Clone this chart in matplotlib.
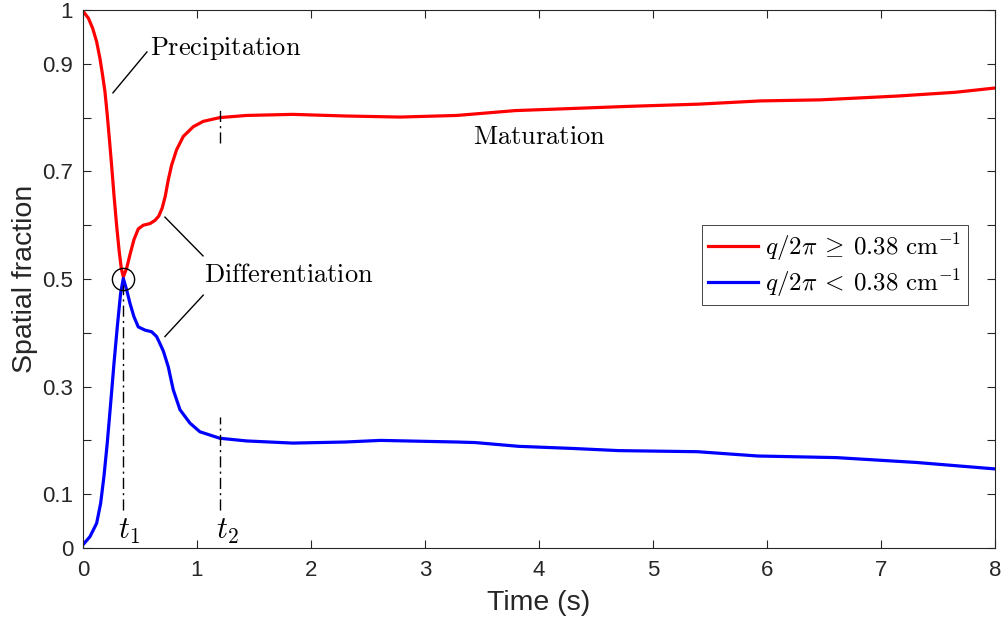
import matplotlib

matplotlib.use("Agg")
import matplotlib.pyplot as plt

plt.rcParams["font.family"] = ["Liberation Sans", "DejaVu Sans"]
plt.rcParams["mathtext.fontset"] = "cm"

# spatial fraction of each wavenumber band vs time
t_red = [0.0, 0.047, 0.085, 0.12, 0.149, 0.172, 0.193, 0.213, 0.231, 0.251,
         0.272, 0.295, 0.318, 0.336, 0.354, 0.383, 0.412, 0.447, 0.485, 0.529,
         0.588, 0.632, 0.665, 0.695, 0.722, 0.748, 0.778, 0.821, 0.88, 0.967,
         1.055, 1.2, 1.435, 1.84, 2.3, 2.78, 3.28, 3.79, 4.3, 4.8, 5.4, 5.94,
         6.47, 7.14, 7.65, 8.0]
frac_red = [0.998, 0.985, 0.966, 0.941, 0.910, 0.879, 0.848, 0.805, 0.762, 0.712,
            0.656, 0.600, 0.551, 0.520, 0.504, 0.520, 0.545, 0.573, 0.593, 0.600,
            0.603, 0.609, 0.617, 0.632, 0.654, 0.684, 0.712, 0.740, 0.765, 0.783,
            0.793, 0.800, 0.804, 0.806, 0.803, 0.801, 0.804, 0.813, 0.817, 0.821,
            0.825, 0.831, 0.833, 0.840, 0.847, 0.855]

t_blue = [0.0, 0.061, 0.12, 0.155, 0.184, 0.213, 0.243, 0.272, 0.301, 0.33,
          0.354, 0.383, 0.412, 0.447, 0.485, 0.544, 0.602, 0.646, 0.675, 0.705,
          0.748, 0.792, 0.851, 0.939, 1.026, 1.2, 1.435, 1.84, 2.3, 2.61, 3.28,
          3.44, 3.82, 4.3, 4.7, 5.39, 5.92, 6.61, 7.31, 8.0]
frac_blue = [0.006, 0.021, 0.046, 0.083, 0.133, 0.195, 0.269, 0.343, 0.411, 0.473,
             0.501, 0.480, 0.455, 0.430, 0.411, 0.405, 0.402, 0.393, 0.380, 0.366,
             0.337, 0.294, 0.257, 0.232, 0.216, 0.204, 0.199, 0.195, 0.197, 0.200,
             0.197, 0.196, 0.189, 0.185, 0.181, 0.179, 0.171, 0.168, 0.159, 0.147]

t1, t2 = 0.355, 1.2
y_ticks = [0, 0.1, 0.2, 0.3, 0.4, 0.5, 0.6, 0.7, 0.8, 0.9, 1.0]
y_labels = ["0", "0.1", "", "0.3", "", "0.5", "", "0.7", "", "0.9", "1"]

fig = plt.figure(figsize=(10.02, 6.25), dpi=100)
ax = fig.add_axes([0.0828, 0.1232, 0.9102, 0.8608])

ax.plot(t_red, frac_red, color="#ff0000", lw=2.3, solid_joinstyle="round",
        label=r"$q/2\pi\:\geq\:0.38\ \mathrm{cm}^{-1}$")
ax.plot(t_blue, frac_blue, color="#0000ff", lw=2.3, solid_joinstyle="round",
        label=r"$q/2\pi\:<\:0.38\ \mathrm{cm}^{-1}$")

# crossing point and time markers
dashdot = (8, 3, 1.5, 3)
ax.plot([t1], [0.5], marker="o", ms=16, mfc="none", mec="k", mew=1.0)
ax.plot([t1, t1], [0.071, 0.489], color="k", lw=1.0, dashes=dashdot)
ax.plot([t2, t2], [0.071, 0.244], color="k", lw=1.0, dashes=dashdot)
ax.plot([t2, t2], [0.752, 0.82], color="k", lw=1.0, dashes=dashdot)
ax.text(0.40, 0.031, r"$t_1$", fontsize=22, ha="center", va="center")
ax.text(1.27, 0.031, r"$t_2$", fontsize=22, ha="center", va="center")

# stage annotations
ax.plot([0.263, 0.561], [0.846, 0.922], color="k", lw=1.0)
ax.text(0.59, 0.928, r"$\mathrm{Precipitation}$", fontsize=19, ha="left", va="center")
ax.plot([0.719, 1.053], [0.615, 0.543], color="k", lw=1.0)
ax.plot([0.719, 1.055], [0.393, 0.470], color="k", lw=1.0)
ax.text(1.06, 0.508, r"$\mathrm{Differentiation}$", fontsize=19, ha="left", va="center")
ax.text(4.0, 0.764, r"$\mathrm{Maturation}$", fontsize=19, ha="center", va="center")

ax.set_xlim(0, 8)
ax.set_ylim(0, 1)
ax.set_xticks(range(9))
ax.set_yticks(y_ticks)
ax.set_yticklabels(y_labels)
ax.tick_params(direction="in", top=True, right=True, length=6, width=0.8,
               labelsize=16, colors="#262626")
ax.tick_params(axis="x", pad=9)
ax.tick_params(axis="y", pad=7)
for s in ax.spines.values():
    s.set_color("#262626")
    s.set_linewidth(0.8)
ax.set_xlabel("Time (s)", fontsize=20.5, color="#262626", labelpad=6)
ax.set_ylabel("Spatial fraction", fontsize=20.5, color="#262626", labelpad=3)

leg = ax.legend(loc="upper right", bbox_to_anchor=(0.97, 0.60), fontsize=18,
                fancybox=False, edgecolor="#262626", framealpha=1,
                handlelength=2.0, handletextpad=0.3, borderpad=0.25,
                labelspacing=0.15, borderaxespad=0)
leg.get_frame().set_linewidth(0.6)

fig.savefig("out.png", dpi=100)
